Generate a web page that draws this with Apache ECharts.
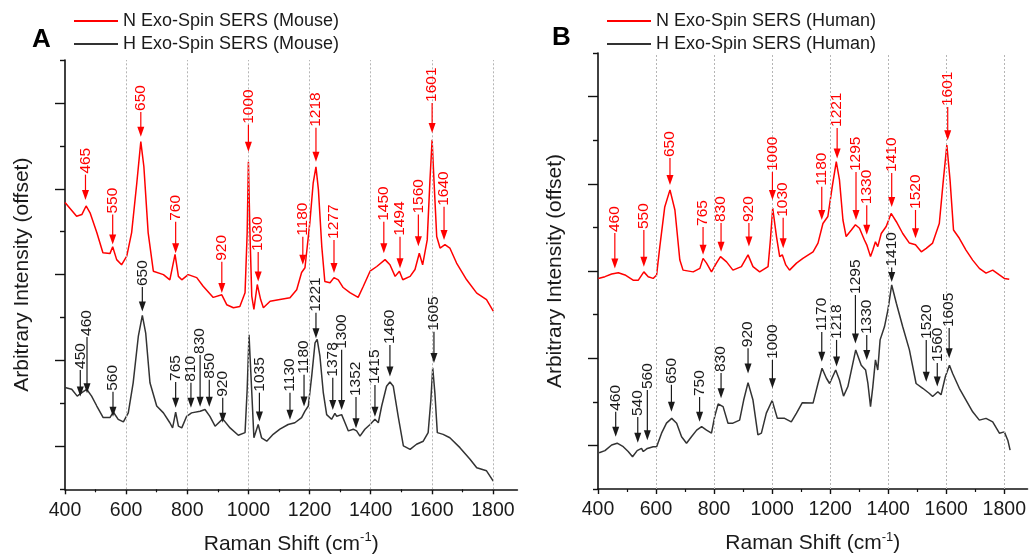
<!DOCTYPE html>
<html><head><meta charset="utf-8">
<script src="https://cdn.jsdelivr.net/npm/echarts@6/dist/echarts.min.js"></script>
<style>html,body{margin:0;padding:0;background:#fff}#c{width:1029px;height:560px}</style>
</head><body><div id="c"></div>
<script>
// ---------- axis ticks ----------
const xTicks = [400, 600, 800, 1000, 1200, 1400, 1600, 1800];
const xMinorTicks = [500, 700, 900, 1100, 1300, 1500, 1700];
const gridLines = [600, 800, 1000, 1200, 1400, 1600, 1800];

// ---------- series names ----------
const namesA = ['N Exo-Spin SERS (Mouse)', 'H Exo-Spin SERS (Mouse)'];
const namesB = ['N Exo-Spin SERS (Human)', 'H Exo-Spin SERS (Human)'];

// ---------- spectra [Raman shift, intensity (offset)] ----------
const nMouse = [[400,6.68],[438,6.36],[455,6.40],[469,6.60],[482,6.44],[504,5.98],[524,5.51],[547,5.49],[556,5.65],[569,5.35],[585,5.23],[602,5.43],[618,5.98],[635,7.14],[648,8.10],[658,7.52],[672,5.98],[689,5.08],[722,5.00],[743,4.88],[760,5.47],[771,4.96],[782,4.88],[803,5.00],[831,4.93],[852,4.73],[885,4.47],[913,4.53],[929,4.30],[951,4.23],[972,4.26],[989,4.58],[996,5.98],[1000,7.63],[1005,5.98],[1011,4.50],[1018,4.19],[1029,4.77],[1040,4.42],[1049,4.23],[1071,4.38],[1103,4.42],[1136,4.46],[1158,4.65],[1174,5.05],[1185,5.16],[1201,6.21],[1212,7.14],[1221,7.51],[1229,6.98],[1240,5.66],[1250,4.84],[1267,4.81],[1280,4.93],[1294,4.88],[1310,4.70],[1332,4.58],[1359,4.47],[1376,4.73],[1398,5.08],[1420,5.19],[1447,5.35],[1463,5.23],[1480,4.96],[1494,5.08],[1505,4.88],[1529,4.96],[1545,5.12],[1559,5.50],[1570,5.23],[1585,5.81],[1594,7.21],[1601,8.14],[1607,7.21],[1616,5.89],[1627,5.62],[1643,5.70],[1659,5.62],[1681,5.27],[1714,4.88],[1747,4.57],[1779,4.42],[1801,4.15]];

const hMouse = [[400,2.37],[422,2.33],[440,2.17],[455,2.25],[471,2.33],[487,2.17],[504,1.94],[525,1.67],[547,1.67],[558,1.80],[574,1.63],[591,1.57],[607,1.78],[623,2.48],[640,3.57],[653,4.05],[664,3.64],[678,2.48],[700,1.94],[722,1.78],[743,1.55],[752,1.43],[762,1.80],[771,1.47],[782,1.43],[798,1.70],[814,1.78],[842,1.82],[858,1.86],[874,1.70],[891,1.47],[916,1.64],[940,1.43],[967,1.26],[989,1.32],[996,2.33],[1002,3.60],[1011,2.26],[1018,1.20],[1032,1.51],[1043,1.20],[1060,1.12],[1081,1.28],[1103,1.40],[1130,1.51],[1152,1.55],[1174,1.67],[1185,1.82],[1196,1.94],[1207,2.63],[1218,3.41],[1225,3.49],[1234,3.10],[1245,2.25],[1256,1.74],[1272,1.63],[1283,1.77],[1289,1.70],[1305,1.74],[1316,1.55],[1327,1.36],[1343,1.40],[1354,1.36],[1365,1.24],[1381,1.40],[1398,1.51],[1414,1.63],[1425,1.55],[1436,1.94],[1452,2.40],[1463,2.50],[1474,2.40],[1490,1.70],[1507,1.01],[1529,0.93],[1550,1.05],[1572,1.12],[1588,1.32],[1597,2.09],[1603,2.83],[1610,2.25],[1618,1.32],[1637,1.28],[1659,1.20],[1692,0.97],[1725,0.70],[1747,0.50],[1779,0.43],[1801,0.19]];

const nHuman = [[401,4.83],[424,4.87],[447,4.93],[470,4.96],[493,4.91],[521,4.79],[539,4.79],[558,4.98],[573,4.87],[590,4.83],[602,4.91],[613,5.56],[630,6.47],[648,6.86],[665,6.40],[682,5.25],[693,5.02],[728,4.98],[751,5.06],[762,5.29],[774,5.18],[791,4.98],[808,5.18],[822,5.33],[843,5.21],[865,5.02],[894,5.10],[917,5.37],[934,5.10],[957,4.98],[986,5.10],[994,5.71],[1002,6.44],[1015,5.79],[1026,5.33],[1035,5.37],[1047,5.14],[1060,5.02],[1084,5.18],[1106,5.29],[1141,5.44],[1158,5.64],[1175,6.09],[1192,6.25],[1207,6.93],[1221,7.51],[1232,7.09],[1244,6.17],[1255,5.79],[1273,5.94],[1287,6.06],[1301,5.98],[1318,5.71],[1326,5.60],[1339,5.33],[1347,5.48],[1356,5.67],[1364,5.56],[1376,5.86],[1393,6.02],[1410,6.32],[1428,6.13],[1450,5.86],[1473,5.64],[1494,5.60],[1514,5.44],[1531,5.52],[1553,5.64],[1576,6.09],[1590,7.09],[1602,7.89],[1613,7.09],[1625,5.94],[1645,5.75],[1668,5.48],[1691,5.25],[1714,5.06],[1737,4.95],[1760,5.02],[1783,4.91],[1800,4.83],[1817,4.81]];

const hHuman = [[404,0.83],[424,0.88],[447,1.01],[466,1.05],[487,0.97],[504,0.86],[519,0.74],[535,0.88],[550,0.93],[556,0.86],[570,0.93],[590,0.97],[602,0.97],[619,1.28],[636,1.51],[654,1.62],[671,1.51],[688,1.20],[705,1.05],[722,1.20],[740,1.35],[757,1.43],[774,1.35],[791,1.28],[802,1.66],[814,1.95],[831,1.89],[848,1.51],[865,1.51],[888,1.58],[902,2.04],[917,2.44],[934,2.04],[951,1.24],[963,1.28],[980,1.74],[1000,2.03],[1018,1.62],[1043,1.62],[1066,1.54],[1084,1.74],[1104,1.98],[1141,1.97],[1158,2.42],[1172,2.77],[1187,2.54],[1198,2.42],[1219,2.73],[1232,2.50],[1246,2.13],[1261,2.35],[1288,3.19],[1307,2.84],[1322,2.73],[1330,2.42],[1339,1.89],[1347,2.35],[1356,2.96],[1364,2.73],[1372,3.42],[1387,3.72],[1399,4.11],[1412,4.68],[1428,4.26],[1450,3.72],[1473,3.19],[1496,2.42],[1519,2.31],[1542,2.19],[1553,2.12],[1571,2.23],[1582,2.16],[1597,2.58],[1611,2.84],[1622,2.65],[1645,2.31],[1668,2.04],[1691,1.77],[1714,1.58],[1737,1.62],[1760,1.54],[1783,1.28],[1800,1.31],[1812,1.12],[1820,0.89]];

// ---------- peak annotations [Raman shift, arrow tip, label start, label] ----------
const annNMouse = [[467,6.74,7.33,'465'],[556,5.70,6.40,'550'],[648,8.21,8.79,'650'],[762,5.50,6.23,'760'],[913,4.57,5.30,'920'],[1000,7.86,8.49,'1000'],[1032,4.84,5.53,'1030'],[1178,5.23,5.88,'1180'],[1221,7.63,8.42,'1218'],[1280,5.04,5.81,'1277'],[1443,5.50,6.23,'1450'],[1496,5.15,5.88,'1494'],[1556,5.66,6.40,'1560'],[1601,8.30,9.00,'1601'],[1640,5.81,6.58,'1640']];
const annHMouse = [[450,2.16,2.78,'450'],[472,2.24,3.55,'460'],[557,1.69,2.27,'560'],[653,4.14,4.71,'650'],[762,1.90,2.50,'765'],[812,1.90,2.48,'810'],[842,1.92,3.13,'830'],[872,1.92,2.55,'850'],[916,1.55,2.13,'920'],[1036,1.58,2.25,'1035'],[1136,1.62,2.25,'1130'],[1182,1.93,2.67,'1180'],[1221,3.52,4.11,'1221'],[1276,1.85,2.60,'1378'],[1305,1.85,3.25,'1300'],[1352,1.42,2.15,'1352'],[1414,1.69,2.43,'1415'],[1463,2.63,3.36,'1460'],[1607,2.94,3.67,'1605']];
const annNHuman = [[458,5.06,5.87,'460'],[558,5.10,5.94,'550'],[648,6.97,7.59,'650'],[762,5.37,6.01,'765'],[824,5.44,6.10,'830'],[920,5.56,6.10,'920'],[1001,6.63,7.27,'1000'],[1038,5.52,6.22,'1030'],[1171,6.17,6.93,'1180'],[1224,7.58,8.28,'1221'],[1289,6.17,7.27,'1295'],[1326,5.83,6.51,'1330'],[1412,6.47,7.25,'1410'],[1494,5.75,6.40,'1520'],[1605,8.00,8.76,'1601']];
const annHHuman = [[461,1.20,1.77,'460'],[537,1.06,1.65,'540'],[570,1.12,2.27,'560'],[653,1.77,2.39,'650'],[750,1.54,2.11,'750'],[824,2.08,2.66,'830'],[917,2.65,3.23,'920'],[1001,2.31,2.96,'1000'],[1171,2.92,3.60,'1170'],[1222,2.81,3.42,'1218'],[1287,3.34,4.45,'1295'],[1326,2.96,3.53,'1330'],[1412,4.75,5.08,'1410'],[1531,2.46,3.42,'1520'],[1569,2.35,2.89,'1560'],[1610,3.00,3.69,'1605']];

const FONT = '"Liberation Sans", Arial, Helvetica, sans-serif';
const RED = '#ff0000', DARK = '#333333', INK = '#1a1a1a';

function annSeries(ann, color, idx) {
  return {
    type: 'custom', xAxisIndex: idx * 2, yAxisIndex: idx, silent: true, z: 5, clip: false,
    data: ann.map(a => [a[0], a[1], a[2]]),
    renderItem: function (params, api) {
      const a = ann[params.dataIndex];
      const p = api.coord([api.value(0), api.value(1)]);
      const q = api.coord([api.value(0), api.value(2)]);
      return { type: 'group', children: [
        { type: 'polygon', shape: { points: [[p[0], p[1]], [p[0] - 3.5, p[1] - 10], [p[0] + 3.5, p[1] - 10]] }, style: { fill: color } },
        { type: 'line', shape: { x1: p[0], y1: p[1] - 9, x2: p[0], y2: q[1] }, style: { stroke: color, lineWidth: 1.2 } },
        { type: 'text', x: p[0], y: q[1] - 1, rotation: Math.PI / 2,
          style: { text: a[3], fill: color, font: '15.5px ' + FONT, align: 'left', verticalAlign: 'middle' } }
      ]};
    }
  };
}

function lineSeries(name, data, color, idx, withGrid) {
  const s = { name, type: 'line', data, xAxisIndex: idx * 2, yAxisIndex: idx, showSymbol: false, symbol: 'none',
    lineStyle: { color, width: 1.5 }, itemStyle: { color }, z: 3, animation: false };
  if (withGrid) {
    s.markLine = { silent: true, symbol: 'none', label: { show: false }, animation: false,
      lineStyle: { type: [2, 2], color: '#b5b5b5', width: 1 },
      data: gridLines.map(v => ({ xAxis: v })) };
  }
  return s;
}

function xAxes(gi) {
  return [{
    gridIndex: gi, type: 'value', min: 400, max: 1880,
    name: '{n|Raman Shift (cm}{s|-1}{n|)}', nameLocation: 'middle', nameGap: 42,
    nameTextStyle: { rich: { n: { fontSize: 21, fontFamily: FONT, color: INK }, s: { fontSize: 13, fontFamily: FONT, color: INK, verticalAlign: 'top', padding: [0, 0, 12, 0] } } },
    axisLine: { lineStyle: { color: '#111', width: 1.6 } },
    axisTick: { customValues: xTicks, length: 5, lineStyle: { color: '#111', width: 1.4 } },
    axisLabel: { customValues: xTicks, fontSize: 19.5, fontFamily: FONT, color: INK, margin: 11, formatter: v => String(v) },
    splitLine: { show: false }
  }, {
    gridIndex: gi, type: 'value', min: 400, max: 1880, position: 'bottom',
    axisLine: { show: false },
    axisTick: { customValues: xMinorTicks, length: 3, lineStyle: { color: '#111', width: 1.2 } },
    axisLabel: { show: false }, splitLine: { show: false }
  }];
}

function yAxis(gi) {
  return {
    gridIndex: gi, type: 'value', min: 0, max: 10, interval: 2,
    name: 'Arbitrary Intensity (offset)', nameLocation: 'middle', nameGap: 32,
    nameTextStyle: { fontSize: 21, fontFamily: FONT, color: INK },
    axisLine: { lineStyle: { color: '#111', width: 1.6 } },
    axisTick: { length: 5, lineStyle: { color: '#111', width: 1.4 } },
    minorTick: { show: true, splitNumber: 2, length: 10, lineStyle: { color: '#111', width: 1.4 } },
    axisLabel: { show: false }, splitLine: { show: false }, minorSplitLine: { show: false }
  };
}

const legendCommon = { orient: 'vertical', padding: 0, itemWidth: 44, itemHeight: 2, itemGap: 5, icon: 'rect',
  textStyle: { fontSize: 18, fontFamily: FONT, color: INK, lineHeight: 18 }, selectedMode: false };

const chart = echarts.init(document.getElementById('c'), null, { renderer: 'canvas' });
chart.setOption({
  animation: false,
  backgroundColor: '#fff',
  grid: [
    { left: 65, top: 60, width: 452.4, height: 429.3 },
    { left: 598, top: 53, width: 430.2, height: 436 }
  ],
  legend: [
    Object.assign({}, legendCommon, { data: namesA, left: 74, top: 12 }),
    Object.assign({}, legendCommon, { data: namesB, left: 607, top: 12 })
  ],
  graphic: [
    { type: 'text', left: 32, top: 27, style: { text: 'A', font: 'bold 26px ' + FONT, fill: '#000' } },
    { type: 'text', left: 552, top: 25, style: { text: 'B', font: 'bold 26px ' + FONT, fill: '#000' } }
  ],
  xAxis: xAxes(0).concat(xAxes(1)),
  yAxis: [yAxis(0), yAxis(1)],
  series: [
    lineSeries(namesA[0], nMouse, RED, 0, true),
    lineSeries(namesA[1], hMouse, DARK, 0, false),
    lineSeries(namesB[0], nHuman, RED, 1, true),
    lineSeries(namesB[1], hHuman, DARK, 1, false),
    annSeries(annNMouse, RED, 0),
    annSeries(annHMouse, INK, 0),
    annSeries(annNHuman, RED, 1),
    annSeries(annHHuman, INK, 1)
  ]
});
</script></body></html>
